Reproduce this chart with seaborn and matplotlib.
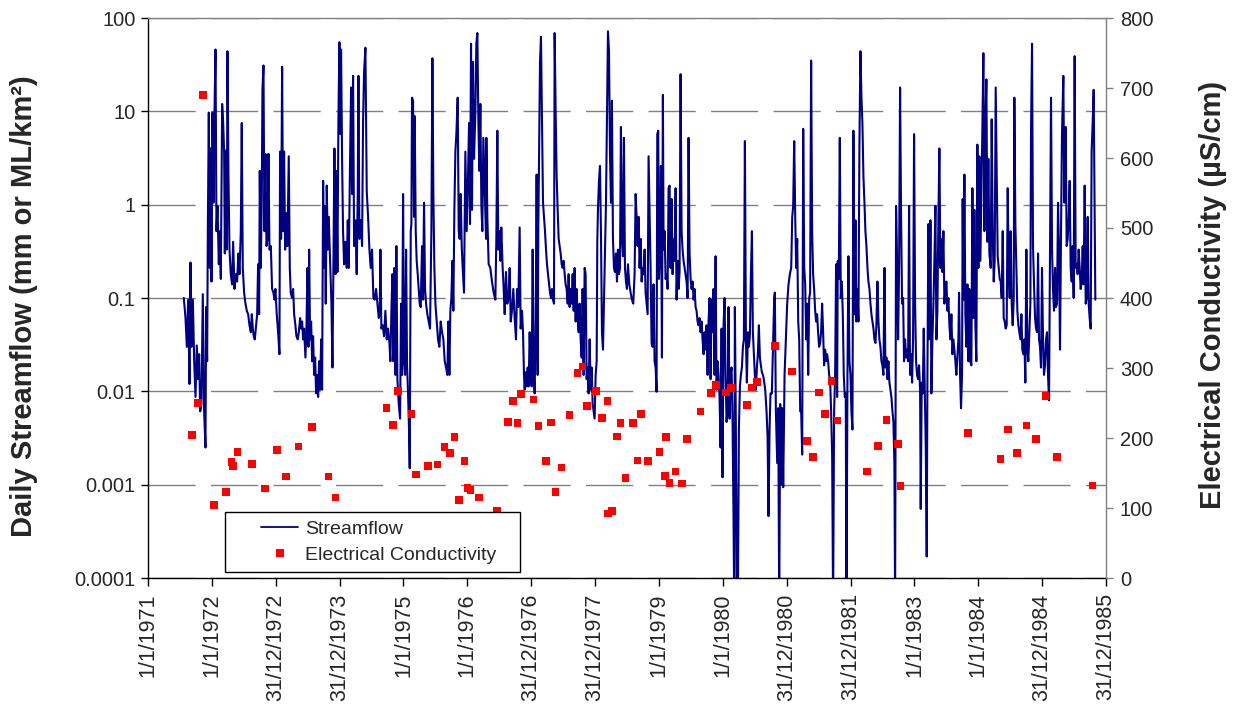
import numpy as np
import pandas as pd
import matplotlib
matplotlib.use("Agg")
import matplotlib.pyplot as plt
import seaborn as sns
from matplotlib.lines import Line2D
from matplotlib.patches import Rectangle
from matplotlib.ticker import FixedLocator, FuncFormatter, NullLocator

# ---------------- data (dates as decimal years, 365.25-day years from 1/1/1971) ----------------
x_tick_labels = ["1/1/1971", "1/1/1972", "31/12/1972", "31/12/1973", "1/1/1975", "1/1/1976",
                 "31/12/1976", "31/12/1977", "1/1/1979", "1/1/1980", "31/12/1980", "31/12/1981",
                 "1/1/1983", "1/1/1984", "31/12/1984", "31/12/1985"]
y_left_ticks = [0.0001, 0.001, 0.01, 0.1, 1, 10, 100]
y_right_ticks = [0, 100, 200, 300, 400, 500, 600, 700, 800]

flow_years_a = [
    1971.561, 1971.587, 1971.608, 1971.629, 1971.650, 1971.665, 1971.681, 1971.702, 1971.723, 1971.744,
    1971.764, 1971.785, 1971.801, 1971.817, 1971.837, 1971.858, 1971.879, 1971.900, 1971.910, 1971.926,
    1971.937, 1971.952, 1971.968, 1971.978, 1971.994, 1972.010, 1972.025, 1972.041, 1972.057, 1972.072,
    1972.088, 1972.109, 1972.124, 1972.140, 1972.161, 1972.177, 1972.192, 1972.203, 1972.218, 1972.234,
    1972.244, 1972.260, 1972.276, 1972.296, 1972.317, 1972.333, 1972.354, 1972.375, 1972.395, 1972.416,
    1972.432, 1972.453, 1972.468, 1972.484, 1972.505, 1972.526, 1972.547, 1972.568, 1972.589, 1972.610,
    1972.625, 1972.641, 1972.656, 1972.672, 1972.688, 1972.709, 1972.724, 1972.740, 1972.750, 1972.766,
    1972.782, 1972.792, 1972.808, 1972.823, 1972.839, 1972.855, 1972.870, 1972.886, 1972.902, 1972.923,
    1972.943, 1972.964, 1972.980, 1972.995, 1973.016, 1973.037, 1973.058, 1973.068, 1973.084, 1973.100,
    1973.115, 1973.131, 1973.147, 1973.168, 1973.183, 1973.204, 1973.220, 1973.235, 1973.256, 1973.272,
    1973.288, 1973.308, 1973.324, 1973.345, 1973.361, 1973.382, 1973.397, 1973.413, 1973.429, 1973.444,
    1973.465, 1973.481, 1973.497, 1973.512, 1973.523, 1973.538, 1973.554, 1973.570, 1973.585, 1973.601,
    1973.617, 1973.632, 1973.648, 1973.664, 1973.679, 1973.695, 1973.711, 1973.726, 1973.742, 1973.757,
    1973.768, 1973.783, 1973.799, 1973.815, 1973.830]
flow_values_a = [
    0.10, 0.061, 0.030, 0.096, 0.012, 0.24, 0.030, 0.096, 0.021, 0.0087,
    0.031, 0.0135, 0.025, 0.0061, 0.0073, 0.11, 0.0061, 0.0025, 0.080, 0.021,
    0.57, 9.7, 0.21, 4.0, 0.15, 9.7, 1.05, 9.7, 46, 0.52,
    0.97, 0.23, 0.52, 0.16, 12, 7.5, 3.7, 0.30, 3.8, 0.33,
    44, 2.0, 0.33, 0.18, 0.14, 0.40, 0.125, 0.18, 0.15, 0.30,
    0.18, 0.52, 7.5, 0.21, 0.114, 0.087, 0.073, 0.067, 0.051, 0.043,
    0.067, 0.047, 0.039, 0.036, 0.047, 0.067, 0.23, 0.067, 2.3, 0.21,
    1.3, 17, 31, 0.52, 3.5, 0.36, 0.43, 3.5, 0.33, 0.36,
    0.125, 0.114, 0.096, 0.125, 0.067, 0.043, 0.025, 3.7, 0.43, 30,
    0.52, 3.7, 0.33, 0.81, 0.36, 3.3, 0.21, 0.114, 0.10, 0.125,
    0.067, 0.051, 0.039, 0.036, 0.043, 0.061, 0.047, 0.056, 0.036, 0.047,
    0.023, 0.047, 0.21, 0.030, 0.33, 0.036, 0.056, 0.021, 0.039, 0.015,
    0.023, 0.0095, 0.015, 0.0087, 0.021, 0.0104, 0.036, 0.0104, 1.8, 0.21,
    0.97, 0.087, 1.6, 0.33, 0.74]

flow_years_b = [
    1973.872, 1973.888, 1973.903, 1973.919, 1973.935, 1973.950, 1973.966, 1973.981, 1973.997, 1974.013,
    1974.023, 1974.039, 1974.054, 1974.070, 1974.091, 1974.112, 1974.128, 1974.143, 1974.164, 1974.180,
    1974.195, 1974.211, 1974.227, 1974.248, 1974.268, 1974.284, 1974.295, 1974.310, 1974.331, 1974.352,
    1974.367, 1974.383, 1974.404, 1974.425, 1974.446, 1974.467, 1974.487, 1974.508, 1974.529, 1974.550,
    1974.571, 1974.592, 1974.613, 1974.628, 1974.639, 1974.654, 1974.675, 1974.696, 1974.717, 1974.738,
    1974.759, 1974.780, 1974.795, 1974.811, 1974.827, 1974.842, 1974.858, 1974.874, 1974.889, 1974.905,
    1974.926, 1974.947, 1974.962, 1974.978, 1974.994, 1975.009, 1975.025, 1975.041, 1975.056, 1975.072,
    1975.087, 1975.098, 1975.114, 1975.124, 1975.134, 1975.150, 1975.166, 1975.176, 1975.192, 1975.207,
    1975.223, 1975.239, 1975.254, 1975.270, 1975.291, 1975.307, 1975.322, 1975.338, 1975.354, 1975.374,
    1975.395, 1975.416, 1975.437, 1975.453, 1975.468, 1975.484, 1975.500, 1975.521, 1975.541, 1975.562,
    1975.583, 1975.604, 1975.625, 1975.646, 1975.667, 1975.687, 1975.703, 1975.719, 1975.734, 1975.750,
    1975.766, 1975.781, 1975.797, 1975.813, 1975.828, 1975.849, 1975.865, 1975.880, 1975.896, 1975.912,
    1975.927, 1975.948, 1975.969, 1975.990, 1976.011, 1976.027, 1976.042, 1976.058, 1976.073, 1976.089,
    1976.105, 1976.126, 1976.141, 1976.157, 1976.173, 1976.188, 1976.204, 1976.220, 1976.235, 1976.251,
    1976.272, 1976.293]
flow_values_b = [
    0.087, 0.018, 0.21, 4.0, 0.18, 2.3, 0.19, 7.5, 55, 5.7,
    46, 3.1, 0.52, 0.23, 0.40, 0.21, 0.68, 0.21, 3.1, 18,
    1.3, 24, 0.36, 0.68, 0.18, 1.3, 24, 0.43, 0.68, 0.36,
    7.5, 26, 48, 1.4, 0.74, 0.33, 0.21, 0.33, 0.10, 0.096,
    0.125, 0.087, 0.061, 0.067, 0.33, 0.047, 0.051, 0.039, 0.073, 0.036,
    0.047, 0.033, 0.021, 0.073, 0.18, 0.021, 0.21, 0.015, 0.36, 0.0135,
    0.0073, 0.0051, 0.087, 0.015, 1.3, 0.021, 0.015, 0.33, 0.019, 0.0095,
    0.0039, 0.0015, 0.52, 0.62, 14, 13, 0.74, 8.9, 0.52, 0.25,
    0.18, 0.125, 0.087, 0.080, 0.36, 0.096, 1.05, 0.125, 0.087, 0.067,
    0.056, 0.047, 0.52, 37, 1.3, 0.21, 0.087, 0.056, 0.036, 0.030,
    0.056, 0.043, 0.036, 0.021, 0.018, 0.015, 0.056, 0.015, 0.073, 0.10,
    0.25, 0.073, 0.88, 3.7, 5.7, 14, 0.52, 0.43, 1.3, 0.36,
    0.21, 0.114, 3.7, 0.52, 2.1, 7.5, 0.62, 53, 0.88, 34,
    3.1, 9.7, 53, 69, 7.5, 2.3, 12, 0.97, 0.52, 5.2,
    1.5, 0.43]

flow_years_c = [
    1976.298, 1976.313, 1976.334, 1976.360, 1976.386, 1976.412, 1976.439, 1976.454, 1976.470, 1976.485,
    1976.501, 1976.517, 1976.532, 1976.553, 1976.569, 1976.585, 1976.605, 1976.626, 1976.647, 1976.663,
    1976.679, 1976.699, 1976.720, 1976.741, 1976.762, 1976.778, 1976.798, 1976.819, 1976.835, 1976.856,
    1976.872, 1976.887, 1976.898, 1976.913, 1976.929, 1976.945, 1976.960, 1976.976, 1976.992, 1977.007,
    1977.023, 1977.038, 1977.054, 1977.070, 1977.085, 1977.101, 1977.111, 1977.122, 1977.138, 1977.153,
    1977.169, 1977.185, 1977.200, 1977.216, 1977.232, 1977.247, 1977.263, 1977.278, 1977.294, 1977.310,
    1977.325, 1977.341, 1977.357, 1977.367, 1977.383, 1977.398, 1977.414, 1977.430, 1977.445, 1977.461,
    1977.477, 1977.492, 1977.508, 1977.524, 1977.539, 1977.555, 1977.571, 1977.586, 1977.602, 1977.618,
    1977.633, 1977.649, 1977.665, 1977.680, 1977.696, 1977.711, 1977.727, 1977.743, 1977.758, 1977.774,
    1977.790, 1977.805, 1977.821, 1977.837, 1977.852, 1977.868, 1977.884, 1977.899, 1977.915, 1977.931,
    1977.946, 1977.962, 1977.978, 1977.993, 1978.009, 1978.025, 1978.035, 1978.045, 1978.061, 1978.077,
    1978.092, 1978.108, 1978.124, 1978.139, 1978.155, 1978.171, 1978.186, 1978.202, 1978.218, 1978.233,
    1978.249, 1978.264, 1978.280, 1978.296, 1978.311, 1978.327, 1978.343, 1978.358, 1978.374, 1978.390,
    1978.405, 1978.421, 1978.437, 1978.452, 1978.468, 1978.484, 1978.499, 1978.515, 1978.536, 1978.557,
    1978.577, 1978.598, 1978.619, 1978.635, 1978.650, 1978.666, 1978.682, 1978.697, 1978.713, 1978.729,
    1978.744, 1978.760, 1978.776, 1978.791, 1978.807, 1978.823, 1978.838]
flow_values_c = [
    5.2, 0.74, 0.23, 0.21, 0.15, 0.114, 0.096, 0.43, 6.2, 0.33,
    0.52, 0.25, 0.57, 0.21, 0.125, 0.067, 0.19, 0.087, 0.10, 0.21,
    0.056, 0.073, 0.125, 0.061, 0.036, 0.125, 0.080, 0.57, 0.047, 0.073,
    0.043, 0.015, 0.0104, 0.016, 0.0113, 0.018, 0.0113, 0.043, 0.016, 0.0113,
    0.33, 0.016, 0.0095, 0.056, 2.1, 0.015, 0.52, 2.6, 34, 63,
    7.5, 1.05, 0.74, 0.52, 0.33, 0.23, 0.18, 0.14, 0.114, 0.10,
    0.125, 0.096, 0.087, 69, 9.7, 2.1, 0.88, 0.43, 0.36, 0.30,
    0.23, 0.21, 0.25, 0.18, 0.14, 0.125, 0.087, 0.18, 0.080, 0.125,
    0.087, 0.18, 0.073, 0.21, 0.056, 0.125, 0.061, 0.043, 0.087, 0.036,
    0.023, 0.125, 0.015, 0.21, 0.18, 0.0135, 0.018, 0.0095, 0.036, 0.0104,
    0.018, 0.0073, 0.0061, 0.0051, 0.015, 0.021, 0.40, 0.88, 1.8, 2.6,
    0.52, 0.043, 0.028, 0.087, 0.33, 1.05, 7.5, 72, 44, 3.7,
    1.05, 13, 0.43, 0.21, 0.19, 0.30, 0.15, 0.33, 0.18, 0.21,
    6.8, 0.43, 0.28, 5.2, 0.21, 0.15, 0.125, 0.23, 0.14, 0.114,
    0.096, 0.087, 0.18, 1.3, 0.74, 0.36, 0.74, 0.21, 0.43, 0.15,
    0.21, 0.18, 0.33, 0.114, 0.087, 0.067, 3.3]

flow_years_d = [
    1978.869, 1978.885, 1978.901, 1978.916, 1978.932, 1978.948, 1978.963, 1978.974, 1978.989, 1979.000,
    1979.016, 1979.031, 1979.047, 1979.062, 1979.073, 1979.089, 1979.104, 1979.120, 1979.136, 1979.151,
    1979.167, 1979.182, 1979.198, 1979.214, 1979.229, 1979.245, 1979.261, 1979.276, 1979.292, 1979.308,
    1979.323, 1979.339, 1979.355, 1979.370, 1979.386, 1979.402, 1979.417, 1979.433, 1979.449, 1979.464,
    1979.480, 1979.496, 1979.511, 1979.527, 1979.543, 1979.558, 1979.574, 1979.589, 1979.605, 1979.621,
    1979.636, 1979.652, 1979.668, 1979.683, 1979.699, 1979.715, 1979.730, 1979.746, 1979.762, 1979.777,
    1979.793, 1979.809, 1979.824, 1979.840, 1979.855, 1979.871, 1979.887, 1979.902, 1979.918, 1979.934,
    1979.949, 1979.965, 1979.981, 1979.996, 1980.012, 1980.028, 1980.043, 1980.059, 1980.075, 1980.090,
    1980.106, 1980.122, 1980.137, 1980.153, 1980.168, 1980.179, 1980.189, 1980.205, 1980.221, 1980.236,
    1980.252, 1980.268, 1980.283, 1980.299, 1980.315, 1980.330, 1980.346, 1980.362, 1980.377, 1980.393,
    1980.409, 1980.424, 1980.440, 1980.456, 1980.471, 1980.487, 1980.502, 1980.518, 1980.534, 1980.549,
    1980.565, 1980.581, 1980.596, 1980.612, 1980.628, 1980.643, 1980.664, 1980.685, 1980.701, 1980.716,
    1980.732, 1980.747, 1980.768, 1980.789, 1980.805, 1980.815, 1980.831, 1980.852, 1980.868, 1980.883,
    1980.899, 1980.915, 1980.930, 1980.946, 1980.967, 1980.988, 1981.008, 1981.029, 1981.050, 1981.071,
    1981.087, 1981.102, 1981.118, 1981.134, 1981.149, 1981.165, 1981.181, 1981.196, 1981.212, 1981.227,
    1981.243, 1981.259, 1981.275, 1981.290, 1981.306, 1981.321, 1981.337, 1981.353]
flow_values_d = [
    0.21, 0.033, 0.030, 0.14, 0.021, 0.018, 0.0099, 5.7, 6.2, 0.16,
    0.33, 2.6, 0.023, 15, 0.33, 0.52, 0.16, 0.18, 0.125, 1.5,
    1.6, 0.21, 1.15, 0.18, 0.43, 0.25, 1.5, 0.096, 0.25, 0.125,
    0.19, 25, 0.52, 0.33, 0.25, 0.21, 0.18, 0.15, 0.10, 5.2,
    0.30, 0.16, 0.125, 0.15, 0.096, 0.125, 0.080, 0.073, 0.056, 0.051,
    0.061, 0.043, 0.056, 0.036, 0.025, 0.043, 0.028, 0.051, 0.015, 0.056,
    0.10, 0.0135, 0.096, 0.043, 0.125, 0.015, 0.28, 0.0104, 0.021, 0.015,
    0.0087, 0.0025, 0.047, 0.0012, 0.051, 0.10, 0.015, 0.0047, 0.0066, 0.080,
    0.0051, 0.015, 0.018, 0.0047, 0.00042, 0.00005, 0.080, 0.0039, 0.00005, 0.00005,
    0.0039, 0.0113, 0.015, 0.018, 0.030, 0.036, 4.8, 0.036, 0.0124, 0.043,
    0.030, 0.039, 0.18, 0.52, 0.043, 0.025, 0.015, 0.0104, 0.018, 0.025,
    0.051, 0.023, 0.019, 0.016, 0.015, 0.0135, 0.0104, 0.0061, 0.0033, 0.00046,
    0.0039, 0.0095, 0.0095, 0.036, 0.10, 0.114, 0.0061, 0.0017, 0.0066, 0.00005,
    0.0073, 0.0010, 0.0066, 0.00094, 0.015, 0.036, 0.087, 0.14, 0.18, 0.21,
    0.74, 0.97, 4.8, 0.74, 0.21, 0.43, 0.056, 0.036, 0.0061, 0.0061,
    0.0021, 6.5, 0.21, 0.14, 0.036, 0.087, 0.015, 0.10]

flow_years_e = [
    1981.367, 1981.383, 1981.399, 1981.414, 1981.430, 1981.446, 1981.461, 1981.477, 1981.492, 1981.508,
    1981.524, 1981.539, 1981.555, 1981.571, 1981.586, 1981.602, 1981.618, 1981.633, 1981.649, 1981.665,
    1981.680, 1981.696, 1981.712, 1981.727, 1981.743, 1981.759, 1981.774, 1981.790, 1981.800, 1981.816,
    1981.832, 1981.847, 1981.863, 1981.879, 1981.894, 1981.910, 1981.925, 1981.936, 1981.952, 1981.967,
    1981.983, 1981.999, 1982.014, 1982.030, 1982.045, 1982.061, 1982.077, 1982.092, 1982.108, 1982.124,
    1982.139, 1982.155, 1982.171, 1982.186, 1982.202, 1982.218, 1982.233, 1982.249, 1982.265, 1982.280,
    1982.296, 1982.312, 1982.327, 1982.343, 1982.359, 1982.374, 1982.390, 1982.405, 1982.421, 1982.437,
    1982.452, 1982.468, 1982.484, 1982.499, 1982.515, 1982.531, 1982.546, 1982.562, 1982.578, 1982.593,
    1982.609, 1982.625, 1982.640, 1982.656, 1982.672, 1982.687, 1982.698, 1982.713, 1982.729, 1982.745,
    1982.760, 1982.776, 1982.791, 1982.807, 1982.823, 1982.838, 1982.854, 1982.870, 1982.885, 1982.901,
    1982.917, 1982.932, 1982.948, 1982.964, 1982.979, 1982.995, 1983.011, 1983.026, 1983.042, 1983.058,
    1983.073, 1983.089, 1983.099, 1983.115, 1983.131, 1983.146, 1983.162, 1983.178, 1983.193, 1983.204,
    1983.219, 1983.235, 1983.251, 1983.266, 1983.282, 1983.298, 1983.313, 1983.329, 1983.345, 1983.360,
    1983.376, 1983.391, 1983.407, 1983.423, 1983.438, 1983.454, 1983.470, 1983.485, 1983.501, 1983.517,
    1983.532, 1983.548, 1983.564, 1983.579, 1983.595, 1983.611, 1983.626, 1983.642, 1983.657, 1983.673,
    1983.689]
flow_values_e = [
    0.114, 35, 0.52, 0.18, 0.125, 0.073, 0.056, 0.067, 0.043, 0.030,
    0.033, 0.043, 0.087, 0.043, 0.019, 0.028, 0.021, 0.025, 0.021, 0.015,
    0.0135, 0.0061, 0.0021, 0.00005, 0.0061, 0.015, 0.23, 0.0087, 0.25, 0.16,
    5.2, 0.10, 0.15, 0.067, 0.015, 0.0087, 0.0095, 0.00005, 0.015, 0.28,
    0.021, 0.015, 0.0061, 0.0039, 6.2, 0.067, 0.68, 0.056, 0.125, 0.056,
    4.4, 44, 14, 7.5, 2.0, 1.05, 0.52, 0.36, 0.21, 0.15,
    0.125, 0.087, 0.067, 0.056, 0.047, 0.036, 0.033, 0.051, 0.15, 0.056,
    0.036, 0.030, 0.021, 0.019, 0.015, 0.21, 0.018, 0.023, 0.0135, 0.021,
    0.0124, 0.0104, 0.0087, 0.0061, 0.0047, 0.0016, 0.00005, 0.97, 0.25, 0.036,
    0.21, 18, 0.81, 0.087, 0.10, 0.021, 0.036, 0.023, 0.028, 0.021,
    0.97, 0.015, 0.025, 0.0124, 0.036, 5.7, 0.087, 0.021, 0.015, 0.0135,
    0.019, 0.0104, 0.00055, 0.0124, 0.0095, 0.047, 0.0113, 0.0025, 0.00017, 0.015,
    0.62, 0.036, 0.68, 0.0095, 0.036, 0.087, 0.25, 0.97, 0.036, 0.073,
    0.74, 4.0, 0.21, 0.43, 0.19, 0.52, 0.087, 0.125, 0.15, 0.073,
    0.10, 0.051, 0.036, 0.067, 0.025, 0.036, 0.028, 0.021, 0.015, 0.023,
    0.036]

flow_years_f = [
    1983.699, 1983.715, 1983.730, 1983.746, 1983.756, 1983.767, 1983.783, 1983.798, 1983.814, 1983.830,
    1983.845, 1983.861, 1983.876, 1983.892, 1983.908, 1983.923, 1983.939, 1983.955, 1983.970, 1983.986,
    1984.002, 1984.017, 1984.033, 1984.049, 1984.064, 1984.080, 1984.096, 1984.111, 1984.127, 1984.143,
    1984.158, 1984.174, 1984.195, 1984.210, 1984.226, 1984.242, 1984.257, 1984.273, 1984.289, 1984.304,
    1984.320, 1984.336, 1984.351, 1984.367, 1984.383, 1984.398, 1984.414, 1984.429, 1984.445, 1984.461,
    1984.476, 1984.492, 1984.508, 1984.523, 1984.539, 1984.555, 1984.565, 1984.581, 1984.596, 1984.612,
    1984.628, 1984.643, 1984.659, 1984.675, 1984.690, 1984.706, 1984.722, 1984.737, 1984.753, 1984.769,
    1984.784, 1984.800, 1984.816, 1984.826, 1984.842, 1984.857, 1984.873, 1984.889, 1984.904, 1984.920,
    1984.936, 1984.951, 1984.967, 1984.982, 1984.998, 1985.014, 1985.029, 1985.045, 1985.061, 1985.076,
    1985.092, 1985.108, 1985.123, 1985.139, 1985.155, 1985.170, 1985.186, 1985.202, 1985.217, 1985.233,
    1985.249, 1985.264, 1985.280, 1985.296, 1985.311, 1985.332, 1985.348, 1985.369, 1985.384, 1985.400,
    1985.416, 1985.431, 1985.447, 1985.463, 1985.478, 1985.494, 1985.509, 1985.525, 1985.541, 1985.556,
    1985.572, 1985.588, 1985.603, 1985.619, 1985.635, 1985.650, 1985.666, 1985.682, 1985.697, 1985.713,
    1985.729, 1985.744, 1985.760, 1985.775, 1985.791, 1985.807, 1985.822, 1985.833]
flow_values_f = [
    0.114, 0.015, 0.0066, 0.015, 1.15, 0.096, 2.1, 0.067, 0.030, 0.14,
    0.021, 0.125, 0.021, 0.019, 1.5, 0.061, 0.88, 0.051, 0.021, 4.4,
    0.21, 3.3, 0.25, 1.3, 6.2, 42, 0.52, 6.8, 22, 0.40,
    3.1, 0.30, 0.21, 8.2, 0.52, 0.15, 0.25, 18, 2.0, 0.28,
    0.21, 0.16, 0.15, 0.10, 0.52, 0.061, 0.056, 0.047, 0.051, 1.5,
    0.21, 0.10, 0.52, 0.087, 0.051, 0.096, 14, 0.62, 0.21, 0.073,
    0.051, 0.043, 0.036, 0.067, 0.028, 0.025, 0.036, 0.0124, 0.33, 0.028,
    0.021, 0.043, 0.087, 6.2, 53, 0.36, 0.14, 0.061, 0.047, 0.043,
    0.30, 0.036, 0.030, 0.018, 0.21, 0.036, 0.015, 0.019, 0.036, 0.043,
    0.015, 0.0080, 0.28, 14, 0.33, 0.125, 0.073, 0.21, 0.080, 0.087,
    1.05, 0.33, 0.028, 0.52, 5.7, 24, 1.05, 6.8, 0.36, 0.43,
    0.74, 1.8, 0.21, 0.15, 0.36, 0.10, 39, 0.21, 0.23, 0.18,
    0.33, 0.21, 0.125, 0.15, 0.36, 0.14, 1.6, 0.087, 0.10, 0.74,
    0.087, 0.061, 0.047, 3.7, 7.5, 17, 0.81, 0.096]

ec_years = [
    1971.691, 1971.785, 1971.863, 1972.036, 1972.223, 1972.307, 1972.328, 1972.401, 1972.625, 1972.834,
    1973.016, 1973.162, 1973.355, 1973.564, 1973.825, 1973.934, 1974.733, 1974.837, 1974.910, 1975.124,
    1975.197, 1975.380, 1975.531, 1975.640, 1975.724, 1975.797, 1975.870, 1975.953, 1976.000, 1976.047,
    1976.178, 1976.465, 1976.637, 1976.715, 1976.788, 1976.840, 1977.038, 1977.117, 1977.231, 1977.310,
    1977.383, 1977.477, 1977.597, 1977.727, 1977.805, 1977.878, 1978.014, 1978.108, 1978.196, 1978.202,
    1978.264, 1978.342, 1978.400, 1978.478, 1978.593, 1978.666, 1978.723, 1978.833, 1979.010, 1979.094,
    1979.109, 1979.167, 1979.261, 1979.360, 1979.438, 1979.652, 1979.819, 1979.892, 1980.048, 1980.127,
    1980.377, 1980.455, 1980.533, 1980.815, 1981.086, 1981.316, 1981.409, 1981.503, 1981.602, 1981.701,
    1981.795, 1982.259, 1982.426, 1982.562, 1982.739, 1982.781, 1983.840, 1984.351, 1984.461, 1984.602,
    1984.753, 1984.904, 1985.050, 1985.233, 1985.786]
ec_values = [
    204, 250, 690, 104, 123, 166, 160, 180, 163, 128,
    183, 145, 188, 216, 145, 115, 243, 219, 267, 234,
    148, 160, 162, 187, 179, 201, 111, 167, 129, 126,
    115, 96, 223, 253, 221, 263, 255, 217, 167, 222,
    123, 158, 233, 293, 302, 246, 267, 229, 253, 92,
    96, 202, 221, 143, 221, 168, 234, 167, 180, 146,
    201, 136, 152, 135, 199, 238, 264, 276, 265, 271,
    247, 272, 280, 331, 295, 196, 173, 265, 234, 281,
    225, 152, 189, 226, 191, 131, 207, 170, 212, 179,
    218, 199, 260, 173, 132]

# ---------------- build tables ----------------
YEAR_DAYS = 365.25
flow_years = np.concatenate([flow_years_a, flow_years_b, flow_years_c,
                             flow_years_d, flow_years_e, flow_years_f])
flow_values = np.concatenate([flow_values_a, flow_values_b, flow_values_c,
                              flow_values_d, flow_values_e, flow_values_f])
df_flow = pd.DataFrame({"day": (flow_years - 1971) * YEAR_DAYS, "flow": flow_values})
df_ec = pd.DataFrame({"day": (np.array(ec_years) - 1971) * YEAR_DAYS, "ec": ec_values})
tick_days = [k * YEAR_DAYS for k in range(len(x_tick_labels))]

# ---------------- style ----------------
sns.set_style("ticks")
plt.rcParams["font.family"] = ["Liberation Sans", "DejaVu Sans"]

NAVY = "#000080"
RED = "#FF0000"
GRID = "#808080"

fig = plt.figure(figsize=(12.37, 7.22), dpi=100)
W, H = 1237, 722
ax = fig.add_axes([148 / W, 1 - 578 / H, (1106 - 148) / W, (578 - 18) / H])
ax2 = ax.twinx()

sns.lineplot(data=df_flow, x="day", y="flow", ax=ax, color=NAVY, linewidth=1.5,
             estimator=None, sort=False, legend=False)
ax.set_yscale("log")
ax.set_ylim(1e-4, 100)
ax.set_xlim(0, tick_days[-1])

sns.scatterplot(data=df_ec, x="day", y="ec", ax=ax2, marker="s", s=30, color=RED,
                edgecolor="none", linewidth=0, legend=False, zorder=3)
ax2.set_ylim(0, 800)
ax2.set_xlim(0, tick_days[-1])

# grid
ax.set_axisbelow(True)
ax.yaxis.grid(True, which="major", color=GRID, linestyle=(0, (34, 11)), linewidth=1.0)
ax.xaxis.grid(False)

# ticks
ax.yaxis.set_major_locator(FixedLocator(y_left_ticks))
ax.yaxis.set_minor_locator(NullLocator())
ax.yaxis.set_major_formatter(FuncFormatter(lambda v, p: "{:g}".format(v)))
ax.set_xticks(tick_days)
ax.set_xticklabels(x_tick_labels, rotation=90)
ax.tick_params(axis="y", direction="out", length=5, width=1, labelsize=14.5, pad=4, color="black")
ax.tick_params(axis="x", direction="out", length=6, width=1, labelsize=15.5, pad=5, color="black")
ax2.yaxis.set_major_locator(FixedLocator(y_right_ticks))
ax2.tick_params(axis="y", direction="out", length=5, width=1, labelsize=14.5, pad=5, color=GRID)

# spines
for s in ["left", "bottom"]:
    ax.spines[s].set_color("black")
    ax.spines[s].set_linewidth(1.0)
ax.spines["top"].set_color(GRID)
ax.spines["top"].set_linewidth(1.0)
ax.spines["right"].set_visible(False)
for s in ["left", "bottom", "top"]:
    ax2.spines[s].set_visible(False)
ax2.spines["right"].set_color(GRID)
ax2.spines["right"].set_linewidth(1.0)

# labels
ax.set_xlabel("")
ax.set_ylabel("Daily Streamflow (mm or ML/km²)", fontsize=21, fontweight="bold")
ax.yaxis.set_label_coords(-0.115, 0.486)
ax2.set_xlabel("")
ax2.set_ylabel("Electrical Conductivity (µS/cm)", fontsize=21, fontweight="bold")
ax2.yaxis.set_label_coords(1.097, 0.505)

# legend (box drawn as a patch, entries as a frameless legend)
box = Rectangle((0.0804, 0.0107), 0.3079, 0.1072, transform=ax2.transAxes,
                facecolor="white", edgecolor="black", linewidth=1.0, zorder=6, clip_on=False)
ax2.add_patch(box)
handles = [Line2D([], [], color=NAVY, linewidth=1.3),
           Line2D([], [], color=RED, marker="s", linestyle="none", markersize=6,
                  markeredgewidth=0)]
leg = ax2.legend(handles, ["Streamflow", "Electrical Conductivity"], loc="center left",
                 bbox_to_anchor=(0.118, 0.064), frameon=False, fontsize=14,
                 handlelength=1.9, handletextpad=0.35, labelspacing=0.45,
                 borderpad=0, borderaxespad=0)
leg.set_zorder(7)

fig.savefig("out.png", dpi=100)
